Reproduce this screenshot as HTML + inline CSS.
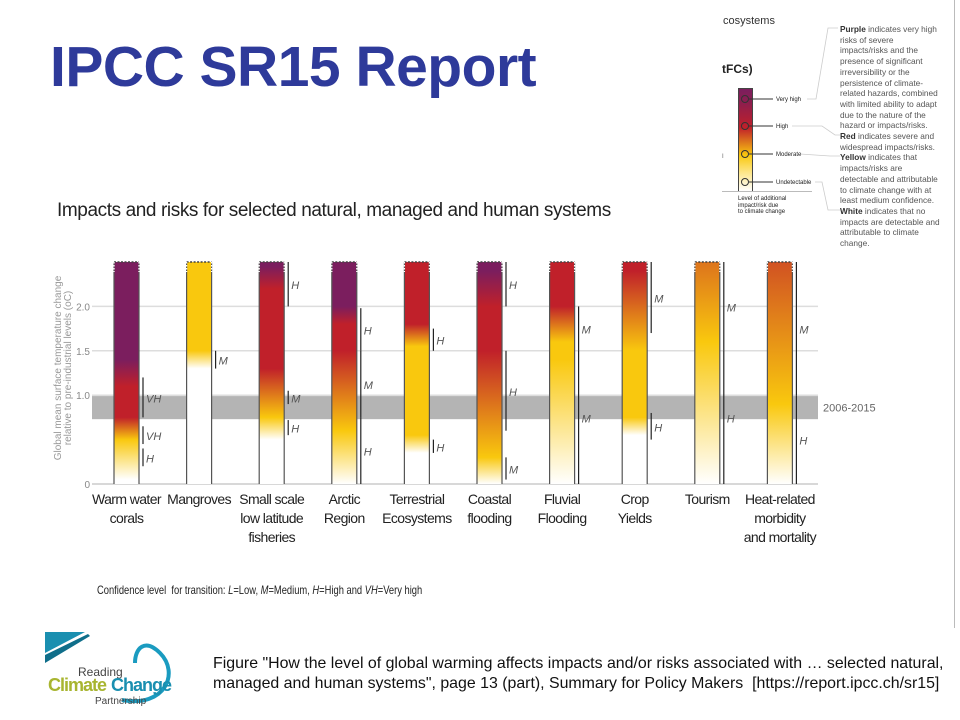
<!DOCTYPE html>
<html><head><meta charset="utf-8">
<style>
html,body{margin:0;padding:0;background:#fff;}
body{width:960px;height:720px;position:relative;overflow:hidden;font-family:"Liberation Sans",sans-serif;}
.abs{position:absolute;}
</style></head>
<body>
<div class="abs" style="left:954px;top:0;width:1px;height:628px;background:#bbb"></div>
<div class="abs" style="left:50px;top:34px;font-size:57px;font-weight:bold;color:#2e3a9a;letter-spacing:-0.5px">IPCC SR15 Report</div>
<div class="abs" style="left:57px;top:200px;font-size:19px;color:#222;letter-spacing:-0.4px;white-space:nowrap">Impacts and risks for selected natural, managed and human systems</div>

<svg class="abs" style="left:0;top:0" width="960" height="720" id="chart"></svg>

<div class="abs" style="left:97px;top:583px;font-size:12px;color:#222;transform:scaleX(0.78);transform-origin:left;white-space:nowrap">Confidence level&nbsp; for transition: <i>L</i>=Low, <i>M</i>=Medium, <i>H</i>=High and <i>VH</i>=Very high</div>

<!-- legend -->
<div class="abs" style="left:723px;top:15px;font-size:11px;color:#333">cosystems</div>
<div class="abs" style="left:722px;top:62px;font-size:12px;font-weight:bold;color:#222">tFCs)</div>
<div class="abs" style="left:738px;top:88px;width:13px;height:102px;border:1px solid #444;background:linear-gradient(to bottom,#7b1e5e 0%,#8a1e50 12%,#c0202a 38%,#f9c80e 65%,#fde68a 82%,#fff 100%)"></div>
<div class="abs" style="left:722px;top:191px;width:90px;height:1px;background:#bbb"></div>
<div class="abs" style="left:738px;top:196px;font-size:6px;line-height:6.5px;color:#222">Level of additional<br>impact/risk due<br>to climate change</div>
<div class="abs" style="left:840px;top:24px;width:102px;font-size:8.3px;line-height:10.7px;color:#555">
<b style="color:#333">Purple</b> indicates very high risks of severe impacts/risks and the presence of significant irreversibility or the persistence of climate-related hazards, combined with limited ability to adapt due to the nature of the hazard or impacts/risks.<br><b style="color:#333">Red</b> indicates severe and widespread impacts/risks.<br><b style="color:#333">Yellow</b> indicates that impacts/risks are detectable and attributable to climate change with at least medium confidence.<br><b style="color:#333">White</b> indicates that no impacts are detectable and attributable to climate change.</div>
<svg class="abs" style="left:700px;top:0" width="160" height="250">
<g stroke="#333" fill="none" stroke-width="1">
<circle cx="45" cy="99" r="3.5"/><line x1="49" y1="99" x2="73" y2="99"/>
<circle cx="45" cy="126" r="3.5"/><line x1="49" y1="126" x2="73" y2="126"/>
<circle cx="45" cy="154" r="3.5"/><line x1="49" y1="154" x2="73" y2="154"/>
<circle cx="45" cy="182" r="3.5"/><line x1="49" y1="182" x2="73" y2="182"/>
</g>
<g stroke="#ccc" fill="none" stroke-width="0.8">
<polyline points="107,99 116,99 128,28 138,28"/>
<polyline points="92,126 122,126 135,135 140,135"/>
<polyline points="100,154 130,156 140,156"/>
<polyline points="115,182 122,182 128,210 140,210"/>
</g>
<g font-size="6" fill="#222" font-family="Liberation Sans, sans-serif">
<text x="76" y="101">Very high</text><text x="76" y="128">High</text><text x="76" y="156">Moderate</text><text x="76" y="184">Undetectable</text>
</g>
<text x="22" y="158" font-size="6" fill="#666">I</text>
</svg>

<!-- logo -->
<svg class="abs" style="left:40px;top:628px" width="140" height="80">
<path d="M5,4 L45,4 L5,25 Z" fill="#1a8fb0"/>
<path d="M5,27 L48,6 L50,8 L5,35 Z" fill="#0f6e8a"/>
<path d="M82,72 C125,80 140,45 120,25 C105,10 95,20 95,35" fill="none" stroke="#1a9bc0" stroke-width="4"/>
<text x="38" y="48" font-size="12" fill="#444" font-family="Liberation Sans, sans-serif">Reading</text>
<text x="8" y="63" font-size="18" font-weight="bold" fill="#a8b530" font-family="Liberation Sans, sans-serif" letter-spacing="-1">Climate</text>
<text x="71" y="63" font-size="18" font-weight="bold" fill="#1a8fb0" font-family="Liberation Sans, sans-serif" letter-spacing="-1">Change</text>
<text x="55" y="76" font-size="10" fill="#444" font-family="Liberation Sans, sans-serif">Partnership</text>
</svg>
<div class="abs" style="left:213px;top:654px;font-size:15.9px;line-height:20px;color:#111;white-space:nowrap">Figure "How the level of global warming affects impacts and/or risks associated with … selected natural,<br>managed and human systems", page 13 (part), Summary for Policy Makers&nbsp; [https://report.ipcc.ch/sr15]</div>

<script>
const categories = [["Warm water","corals"],["Mangroves"],["Small scale","low latitude","fisheries"],["Arctic","Region"],["Terrestrial","Ecosystems"],["Coastal","flooding"],["Fluvial","Flooding"],["Crop","Yields"],["Tourism"],["Heat-related","morbidity","and mortality"]];
// risk stops per system: [temperature °C, risk level 0=white 1=yellow 2=red 3=purple]
const riskStops = [
 [[0.05,0],[0.5,1],[0.75,2],[1.1,2],[1.4,3],[2.5,3]],
 [[1.3,0],[1.5,1],[2.5,1]],
 [[0.5,0],[0.75,1],[1.3,2],[2.2,2],[2.45,3]],
 [[0,0],[0.6,1],[1.5,2],[1.8,2],[2.0,3],[2.5,3]],
 [[0.35,0],[0.55,1],[1.55,1],[1.8,2],[2.5,2]],
 [[0,0],[0.3,1],[1.5,2],[2.0,2],[2.4,3]],
 [[0,0],[1.4,1],[1.6,1],[2.0,2],[2.5,2]],
 [[0.55,0],[0.75,1],[1.5,1],[2.4,2],[2.5,2]],
 [[0,0],[1.6,1],[2.5,1.5]],
 [[0,0],[0.9,1],[2.5,1.7]]
];
// confidence segments: [from °C, to °C, label]
const confidence = [
 [[0.75,1.2,"VH"],[0.45,0.65,"VH"],[0.2,0.4,"H"]],
 [[1.3,1.5,"M"]],
 [[2.0,2.5,"H"],[0.9,1.05,"M"],[0.55,0.72,"H"]],
 [[1.5,1.98,"H"],[0.75,1.5,"M"],[0,0.75,"H"]],
 [[1.5,1.75,"H"],[0.35,0.5,"H"]],
 [[2.0,2.5,"H"],[0.6,1.5,"H"],[0.05,0.3,"M"]],
 [[1.5,2.0,"M"],[0,1.5,"M"]],
 [[1.7,2.5,"M"],[0.5,0.8,"H"]],
 [[1.5,2.5,"M"],[0,1.5,"H"]],
 [[1.0,2.5,"M"],[0,1.0,"H"]]
];
const yTicks = [0,1.0,1.5,2.0];
const tickLabels = ["0","1.0","1.5","2.0"];
const obsBand = [0.73,0.99];
const obsLabel = "2006-2015";
const maxTemp = 2.5;

const levelColors = [[255,255,255],[249,200,14],[192,32,42],[123,30,94]];
function levelColor(l){const i=Math.min(2,Math.floor(l)),f=l-i;const a=levelColors[i],b=levelColors[i+1];return "rgb("+a.map((v,k)=>Math.round(v+(b[k]-v)*f)).join(",")+")";}
const svg=document.getElementById('chart');const NS="http://www.w3.org/2000/svg";
const y0=484, yTop=262;
function y(t){return y0-(t/maxTemp)*(y0-yTop);}
const xLeft=92,xRight=818,step=72.6,firstX=114,barW=25;
function xb(i){return firstX+i*step;}
function mk(tag,attrs,parent){const e=document.createElementNS(NS,tag);for(const k in attrs)e.setAttribute(k,attrs[k]);(parent||svg).appendChild(e);return e;}
const defs=mk('defs',{});
const band=mk('rect',{x:xLeft,y:y(obsBand[1]),width:xRight-xLeft,height:y(obsBand[0])-y(obsBand[1]),fill:'#b4b4b4'});


const bl=mk('text',{x:xRight+5,y:(y(obsBand[0])+y(obsBand[1]))/2+4,'font-size':11,fill:'#666','font-family':'Liberation Sans, sans-serif'});bl.textContent=obsLabel;


yTicks.forEach((t,i)=>{
 if(t>0){const g=mk('line',{x1:xLeft,x2:xRight,y1:y(t),y2:y(t),stroke:'#ddd','stroke-width':1.5});
 
 }
 const tl=mk('text',{x:90,y:y(t)+4,'text-anchor':'end','font-size':10,fill:'#888','font-family':'Liberation Sans, sans-serif'});tl.textContent=tickLabels[i];
 
 
});
const ax=mk('line',{x1:xLeft,x2:xRight,y1:y0,y2:y0,stroke:'#ccc','stroke-width':1.5});


const yt=mk('text',{transform:'translate(61,368) rotate(-90)','text-anchor':'middle','font-size':10,fill:'#999','font-family':'Liberation Sans, sans-serif'});


const ts1=mk('tspan',{x:0,dy:0},yt);ts1.textContent="Global mean surface temperature change";
const ts2=mk('tspan',{x:0,dy:10},yt);ts2.textContent="relative to pre-industrial levels (oC)";

categories.forEach((c,i)=>{
 const x=xb(i);
 const gid='g'+i;const lg=mk('linearGradient',{id:gid,x1:0,y1:1,x2:0,y2:0},defs);
 const st=riskStops[i];
 mk('stop',{offset:0,'stop-color':levelColor(st[0][1])},lg);
 st.forEach(s=>mk('stop',{offset:s[0]/maxTemp,'stop-color':levelColor(s[1])},lg));
 mk('stop',{offset:1,'stop-color':levelColor(st[st.length-1][1])},lg);
 const bar=mk('rect',{x:x,y:y(maxTemp),width:barW,height:y0-y(maxTemp),fill:'url(#'+gid+')'});
 
 
 mk('line',{x1:x,x2:x,y1:y(maxTemp),y2:y0,stroke:'#555','stroke-width':1.2});
 mk('line',{x1:x+barW,x2:x+barW,y1:y(maxTemp),y2:y0,stroke:'#555','stroke-width':1.2});
 mk('line',{x1:x,x2:x+barW,y1:y(maxTemp),y2:y(maxTemp),stroke:'#444','stroke-width':1.5,'stroke-dasharray':'2,1.5'});
 mk('line',{x1:x,x2:x,y1:y(maxTemp),y2:y(maxTemp)+10,stroke:'#fff','stroke-width':1.3,'stroke-dasharray':'1.5,1.5'});
 mk('line',{x1:x+barW,x2:x+barW,y1:y(maxTemp),y2:y(maxTemp)+10,stroke:'#fff','stroke-width':1.3,'stroke-dasharray':'1.5,1.5'});
 confidence[i].forEach(cf=>{
  const cl=mk('line',{x1:x+barW+4,x2:x+barW+4,y1:y(cf[1]),y2:y(cf[0]),stroke:'#222','stroke-width':1.2});
  
  
  const ct=mk('text',{x:x+barW+7,y:(y(cf[0])+y(cf[1]))/2+5,'font-size':11,'font-style':'italic',fill:'#555','font-family':'Liberation Sans, sans-serif'});ct.textContent=cf[2];
  
  
 });
 const lab=mk('text',{x:x+barW/2,y:504,'text-anchor':'middle','font-size':14,fill:'#222','font-family':'Liberation Sans, sans-serif','letter-spacing':'-0.6'});
 
 
 c.forEach((line,k)=>{const t=mk('tspan',{x:x+barW/2,dy:k?19:0},lab);t.textContent=line;});
});
</script>
</body></html>
